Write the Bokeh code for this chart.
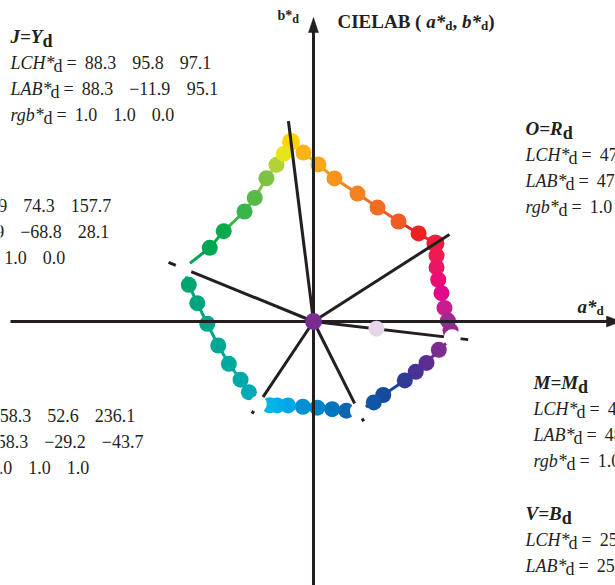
import math
from bokeh.plotting import figure
from bokeh.models import Range1d, ColumnDataSource
from bokeh.embed import file_html
from bokeh.resources import INLINE
from bokeh.core.properties import value

# ---------------- data ----------------
# elementary colour blocks: J=Y, O=R, L=G, C=C, M=M, V=B
block_title = ["J=Y", "O=R", "L=G", "C=C", "M=M", "V=B"]
lch_L = [88.3, 47.9, 50.9, 58.3, 48.1, 25.7]
lch_C = [95.8, 76.6, 74.3, 52.6, 73.9, 53.0]
lch_h = [97.1, 32.6, 157.7, 236.1, 353.3, 296.7]
lab_a = [-11.9, 64.5, -68.8, -29.2, 73.4, 23.8]
lab_b = [95.1, 41.3, 28.1, -43.7, -8.6, -47.4]
rgb_r = [1.0, 1.0, 0.0, 0.0, 1.0, 0.0]
rgb_g = [1.0, 0.0, 1.0, 1.0, 0.0, 0.0]
rgb_b = [0.0, 0.0, 0.0, 1.0, 1.0, 1.0]
corner_fill = ["#FFD400", "#EE1C3D", "#FFFFFF", "#FFFFFF", "#FFFFFF", "#FFFFFF"]

# hue circle (closed loop Y -> R -> M -> B -> C -> G -> Y), corners at None slots
ring_a = [-5.3, 2.6, 11.1, 23.3, 33.9, 45.0, 55.6,
          None,
          65.1, 65.1, 66.0, 67.7, 69.3, 71.1, 72.5,
          None,
          66.3, 59.8, 54.1, 48.3, 36.9, 31.9,
          None,
          17.4, 9.9, 2.0, -5.6, -13.5, -19.2, -23.2,
          None,
          -34.2, -38.6, -44.8, -50.4, -56.2, -61.5, -66.0,
          None,
          -54.9, -47.5, -36.5, -31.1, -24.9, -19.6, -15.7]
ring_b = [89.4, 83.1, 75.7, 67.7, 60.3, 52.9, 46.6,
          None,
          34.9, 28.6, 22.1, 15.0, 7.2, 0.5, -4.8,
          None,
          -15.0, -21.9, -26.6, -31.2, -38.9, -42.8,
          None,
          -47.2, -46.4, -45.6, -45.1, -44.4, -44.4, -44.3,
          None,
          -37.4, -30.8, -22.4, -12.7, -1.2, 9.7, 19.4,
          None,
          39.0, 47.8, 58.2, 65.4, 75.8, 82.9, 88.7]
ring_color = ["#FBB316", "#F9A51A", "#F7941D", "#F58220", "#F26C22", "#F05A23", "#ED2224",
              None,
              "#EE1A50", "#ED1463", "#EB0C74", "#E2078C", "#C81D8F", "#A3288F", "#932A90",
              None,
              "#7B2C91", "#5C2E91", "#4A3193", "#2E3A93", "#174A9C", "#0F56A6",
              None,
              "#0E66B1", "#0075BD", "#0084C9", "#0090D3", "#00A6E5", "#00AEEF", "#00B5E5",
              None,
              "#00A9B5", "#00A9A8", "#00A99E", "#00A795", "#00A68A", "#00A57D", "#00A470",
              None,
              "#00A651", "#0CA94C", "#39B54A", "#57B947", "#7DC242", "#B2D235", "#E6E51C"]
# corners inserted at the None slots (after the Y start): R, M, B, C, G
ring_corner_order = [1, 4, 5, 3, 2]

mid_a = [33.3]
mid_b = [-3.8]
mid_color = ["#E7D6E7"]
center_color = "#7B2C90"
radial_ext = 1.115

# ---------------- layout ----------------
S = 1.89            # px per CIELAB unit
OX, OY = 313.0, 321.0
W, H = 615, 585
PM = 0
INK = "#231F20"
TY = -6             # global vertical text shift (px)


def X(px):
    return (px - OX) / S


def Y(py):
    return (OY - py) / S


p = figure(width=W, height=H,
           x_range=Range1d(X(PM), X(PM + W)), y_range=Range1d(Y(PM + H), Y(PM)),
           output_backend="svg", toolbar_location=None, min_border=0,
           x_axis_type=None, y_axis_type=None,
           background_fill_color="white", border_fill_color="white")
p.outline_line_color = None

# build full loop with corners
loop_a, loop_b, loop_c = [lab_a[0]], [lab_b[0]], [corner_fill[0]]
ci = 0
for a, b, c in zip(ring_a, ring_b, ring_color):
    if a is None:
        k = ring_corner_order[ci]
        ci += 1
        loop_a.append(lab_a[k]); loop_b.append(lab_b[k]); loop_c.append(corner_fill[k])
    else:
        loop_a.append(a); loop_b.append(b); loop_c.append(c)

n = len(loop_a)
sx0, sy0, sx1, sy1, sc = [], [], [], [], []
for i in range(n):
    j = (i + 1) % n
    sx0.append(loop_a[i]); sy0.append(loop_b[i])
    sx1.append(loop_a[j]); sy1.append(loop_b[j])
    c = loop_c[j] if loop_c[j] != "#FFFFFF" else loop_c[i]
    sc.append(c)
p.segment(x0=sx0, y0=sy0, x1=sx1, y1=sy1, line_color=sc, line_width=3)

# coloured ring dots
ca = [a for a, c in zip(loop_a, loop_c) if c != "#FFFFFF"]
cb = [b for b, c in zip(loop_b, loop_c) if c != "#FFFFFF"]
cc = [c for c in loop_c if c != "#FFFFFF"]
csz = [18 if (a, b) in [(lab_a[0], lab_b[0]), (lab_a[1], lab_b[1])] else 16 for a, b in zip(ca, cb)]
p.scatter(x=ca, y=cb, size=csz, fill_color=cc, line_color=None)

# axes with arrowheads
p.segment(x0=[X(10), X(OX)], y0=[Y(OY), Y(600)], x1=[X(607), X(OX)], y1=[Y(OY), Y(30)],
          line_color=INK, line_width=3)
p.patches(xs=[[X(620), X(606), X(606)], [X(OX), X(OX - 5), X(OX + 5)]],
          ys=[[Y(OY), Y(OY - 5.5), Y(OY + 5.5)], [Y(17), Y(32), Y(32)]],
          fill_color=INK, line_color=INK, line_width=0.5)

# radial lines to elementary colours
p.segment(x0=[0] * 6, y0=[0] * 6, x1=[a * radial_ext for a in lab_a],
          y1=[b * radial_ext for b in lab_b], line_color=INK, line_width=3)

# white corner dots on top
wa = [lab_a[k] for k in range(6) if corner_fill[k] == "#FFFFFF"]
wb = [lab_b[k] for k in range(6) if corner_fill[k] == "#FFFFFF"]
p.scatter(x=wa, y=wb, size=17, fill_color="#FFFFFF", line_color=None)

p.scatter(x=mid_a, y=mid_b, size=16, fill_color=mid_color, line_color=None)
p.scatter(x=[0], y=[0], size=17, fill_color=center_color, line_color=None)

# ---------------- texts ----------------
IT = {'L': .556, 'C': .667, 'H': .722, 'A': .611, 'B': .611, 'r': .389, 'g': .5, 'b': .5, '*': .5}
BI = {'J': .5, '=': .57, 'Y': .611, 'O': .722, 'R': .667, 'M': .889, 'V': .667, 'B': .667,
      'L': .611, 'G': .722, 'C': .667, 'a': .5, 'b': .5, '*': .5}
RG = {'.': .25, '\u2212': .564, '=': .564, ' ': .25, 'd': .5}
BD = {'C': .722, 'I': .389, 'E': .667, 'L': .667, 'A': .722, 'B': .667, '(': .333, ')': .333,
      ',': .25, ' ': .25, 'd': .556, 'b': .556, '*': .5}


def wid(s, table, size):
    return sum(table.get(ch, .5) for ch in s) * size


texts = {}


def put(px, py, s, style, size):
    d = texts.setdefault((style, size), dict(x=[], y=[], text=[]))
    d['x'].append(X(px)); d['y'].append(Y(py + TY)); d['text'].append(s)


def fmt(v):
    return f"{v:.1f}".replace("-", "\u2212")


FS = 18


def row(x0, base, prefix, vals):
    put(x0, base, prefix, "italic", FS)
    xd = x0 + wid(prefix, IT, FS) - 1
    put(xd, base + 3, "d", "normal", FS)
    xe = xd + 0.72 * FS
    put(xe, base, "=", "normal", FS)
    xv = xe + 0.564 * FS + 0.45 * FS
    for v in vals:
        s = fmt(v)
        put(xv, base, s, "normal", FS)
        xv += wid(s, RG, FS) + 16


block_pos = [(10, 43), (525, 135), (-99, 186), (-75, 396), (533, 389), (525, 520)]
for k, (x0, tb) in enumerate(block_pos):
    t = block_title[k]
    put(x0, tb - 1, t, "bold italic", 19)
    put(x0 + wid(t, BI, 19), tb + 3, "d", "bold", 18)
    row(x0, tb + 25, "LCH*", [lch_L[k], lch_C[k], lch_h[k]])
    row(x0, tb + 51, "LAB*", [lch_L[k], lab_a[k], lab_b[k]])
    row(x0, tb + 77, "rgb*", [rgb_r[k], rgb_g[k], rgb_b[k]])

# chart title
tx, tb = 337, 27
put(tx, tb, "CIELAB", "bold", 19); tx += wid("CIELAB ", BD, 19)
put(tx, tb, "(", "bold", 19); tx += wid("( ", BD, 19)
put(tx, tb, "a*", "bold italic", 19); tx += wid("a*", BI, 19)
put(tx, tb + 4, "d", "bold", 13); tx += wid("d", BD, 13)
put(tx, tb, ",", "bold", 19); tx += wid(", ", BD, 19)
put(tx, tb, "b*", "bold italic", 19); tx += wid("b*", BI, 19)
put(tx, tb + 4, "d", "bold", 13); tx += wid("d", BD, 13)
put(tx, tb, ")", "bold", 19)

# axis labels
put(277, 21, "b*", "bold", 14)
put(277 + wid("b*", BD, 14), 24, "d", "bold", 12)
put(577, 312, "a*", "bold italic", 19)
put(577 + wid("a*", BI, 19), 316, "d", "bold", 13)

for (style, size), d in texts.items():
    p.text(x='x', y='y', text='text', source=ColumnDataSource(d),
           text_font=value("Liberation Serif"), text_font_style=style,
           text_font_size=f"{size}px", text_color=INK,
           text_baseline="alphabetic", text_align="left")

open("out.html", "w").write(file_html(p, INLINE))
